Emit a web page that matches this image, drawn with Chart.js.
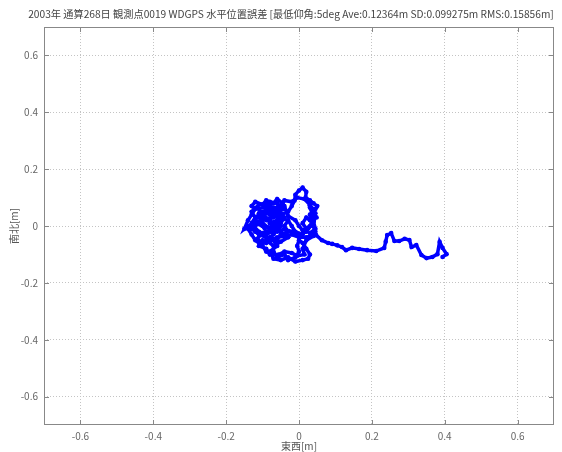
<!DOCTYPE html>
<html>
<head>
<meta charset="utf-8">
<script src="https://cdn.jsdelivr.net/npm/chart.js@4.4.1/dist/chart.umd.min.js"></script>
<style>
  html, body { margin: 0; padding: 0; background: #fff; }
  #wrap { width: 562px; height: 452px; }
</style>
</head>
<body>
<div id="wrap"><canvas id="errChart" width="562" height="452"></canvas></div>
<script>
// horizontal position error track (east-west / north-south, metres)
const ewTrack = [
  -0.05, -0.06, -0.08, -0.07, -0.09, -0.10, -0.12, -0.14, -0.15, -0.14,
  -0.13, -0.12, -0.13, -0.12, -0.10, -0.09, -0.07, -0.06, -0.045, -0.04,
  -0.06, -0.08, -0.10, -0.11, -0.09, -0.07, -0.05, -0.03, -0.02, -0.012,
  -0.01, 0.00, 0.01, 0.02, 0.018, 0.03, 0.04, 0.05, 0.04, 0.048,
  0.03, 0.02, 0.01, 0.02, 0.01, -0.01, -0.02, -0.03, -0.04, -0.03,
  -0.05, -0.06, -0.08, -0.09, -0.10, -0.11, -0.09, -0.08, -0.07, -0.06,
  -0.04, -0.03, -0.01, 0.00, -0.005, 0.00, 0.01, 0.02, 0.03, 0.025,
  0.01, -0.01, -0.03, -0.05, -0.07, -0.08, -0.06, -0.07, -0.09, -0.11,
  -0.12, -0.13, -0.11, -0.10, -0.08, -0.07, -0.09, -0.11, -0.10, -0.08,
  -0.06, -0.05, -0.03, -0.05, -0.07, -0.09, -0.07, -0.05, -0.04, -0.06,
  -0.04, -0.03, -0.01, 0.00, 0.01, 0.03, 0.04, 0.045, 0.03, 0.04,
  0.02, 0.01, 0.015, -0.005, -0.02, -0.04, -0.055, -0.07, -0.09, -0.10,
  -0.12, -0.13, -0.14, -0.13, -0.12, -0.13, -0.11, -0.08, -0.06, -0.05,
  -0.07, -0.09, -0.11, -0.12, -0.10, -0.085, -0.06, -0.04, -0.02, 0.00,
  0.02, 0.035, 0.03, 0.045, 0.03, 0.04, 0.035, 0.045, 0.04,
  0.02, 0.00, -0.02, -0.035, -0.06, -0.08, -0.10, -0.115, -0.10, -0.08,
  -0.065, -0.05, -0.065, -0.085, -0.105, -0.125, -0.11, -0.09, -0.075, -0.06,
  -0.04, -0.06, -0.08, -0.095, -0.075, -0.055, -0.04, -0.02, -0.005, 0.015,
  0.03, 0.045, 0.04, 0.045,
  0.047, 0.063, 0.08, 0.091, 0.105, 0.118, 0.129, 0.146, 0.165, 0.187,
  0.212, 0.234, 0.238, 0.242, 0.253, 0.262, 0.275, 0.29, 0.303, 0.309,
  0.322, 0.336, 0.35, 0.366, 0.38, 0.386, 0.394, 0.405, 0.394
];
const nsTrack = [
  0.00, 0.02, 0.01, -0.01, -0.02, 0.00, 0.01, 0.00, -0.01, 0.02,
  0.04, 0.06, 0.07, 0.085, 0.075, 0.09, 0.08, 0.095, 0.08, 0.06,
  0.05, 0.04, 0.05, 0.03, 0.02, 0.03, 0.04, 0.05, 0.07, 0.09,
  0.11, 0.125, 0.135, 0.12, 0.10, 0.09, 0.08, 0.07, 0.05, 0.03,
  0.02, 0.03, 0.01, -0.01, -0.03, -0.02, 0.00, 0.02, 0.00, -0.02,
  -0.03, -0.05, -0.04, -0.06, -0.05, -0.07, -0.08, -0.10, -0.09, -0.11,
  -0.10, -0.12, -0.11, -0.09, -0.07, -0.05, -0.06, -0.08, -0.10, -0.115,
  -0.12, -0.125, -0.11, -0.12, -0.115, -0.09, -0.07, -0.05, -0.04, -0.03,
  -0.02, -0.01, 0.01, 0.03, 0.06, 0.065, 0.07, 0.06, 0.04, 0.02,
  0.00, -0.02, -0.04, -0.055, -0.07, -0.05, -0.03, 0.01, 0.03, 0.065,
  0.07, 0.035, 0.02, 0.00, -0.015, 0.00, 0.015, -0.01, -0.025, -0.035,
  -0.05, -0.08, -0.10, -0.105, -0.095, -0.09, -0.10, -0.10, -0.09, -0.07,
  -0.05, -0.03, -0.01, 0.01, 0.03, 0.05, 0.075, 0.085, 0.08, 0.06,
  0.045, 0.055, 0.045, 0.02, 0.01, -0.005, -0.02, -0.01, -0.02, -0.03,
  -0.02, 0.005, 0.04, 0.06, 0.065, 0.03, 0.01, -0.02, -0.03,
  -0.04, -0.04, -0.03, -0.035, -0.04, -0.055, -0.06, -0.045, -0.025, -0.015,
  0.00, 0.02, 0.035, 0.025, 0.02, 0.00, -0.02, -0.03, -0.02, 0.01,
  0.025, 0.045, 0.075, 0.065, 0.055, 0.07, 0.09, 0.085, 0.10, 0.095,
  0.075, 0.045, 0.00, -0.03,
  -0.032, -0.05, -0.06, -0.063, -0.068, -0.074, -0.085, -0.077, -0.081, -0.085,
  -0.088, -0.077, -0.055, -0.032, -0.025, -0.053, -0.053, -0.045, -0.049, -0.074,
  -0.067, -0.102, -0.113, -0.109, -0.099, -0.056, -0.077, -0.099, -0.109
];
const tickValues = [-0.6, -0.4, -0.2, 0, 0.2, 0.4, 0.6];
const axisMin = -0.7;
const axisMax = 0.7;

const titleText = '2003年 通算268日 観測点0019 WDGPS 水平位置誤差 [最低仰角:5deg Ave:0.12364m SD:0.099275m RMS:0.15856m]';
const xTitle = '東西[m]';
const yTitle = '南北[m]';

const fontFamily = '"Noto Sans CJK JP", "Liberation Sans", sans-serif';
const tickColor = '#666';

const points = ewTrack.map((x, i) => ({ x: x, y: nsTrack[i] }));

// title sits slightly right of the canvas centre, as in the original figure
const titlePlugin = {
  id: 'titlePlugin',
  afterDraw(chart) {
    const c = chart.ctx;
    c.save();
    c.font = '10.2px ' + fontFamily;
    c.fillStyle = '#444';
    c.textAlign = 'center';
    c.textBaseline = 'middle';
    c.fillText(titleText, 291, 14);
    c.restore();
  }
};

// MATLAB-like box with inward ticks on all four sides
const boxPlugin = {
  id: 'boxPlugin',
  afterDraw(chart) {
    const { ctx, chartArea: a, scales } = chart;
    ctx.save();
    ctx.strokeStyle = '#888';
    ctx.lineWidth = 1;
    ctx.strokeRect(a.left + 0.5, a.top + 0.5, a.right - a.left - 1, a.bottom - a.top - 1);
    ctx.beginPath();
    tickValues.forEach(v => {
      const px = Math.round(scales.x.getPixelForValue(v)) + 0.5;
      const py = Math.round(scales.y.getPixelForValue(v)) + 0.5;
      ctx.moveTo(px, a.bottom); ctx.lineTo(px, a.bottom - 5);
      ctx.moveTo(px, a.top); ctx.lineTo(px, a.top + 5);
      ctx.moveTo(a.left, py); ctx.lineTo(a.left + 5, py);
      ctx.moveTo(a.right, py); ctx.lineTo(a.right - 5, py);
    });
    ctx.stroke();
    ctx.restore();
  }
};

const gridOpts = {
  color: '#c4c4c4',
  lineWidth: 1,
  drawTicks: false,
  tickLength: 0
};
const borderOpts = { display: false, dash: [1, 2] };

const ctx = document.getElementById('errChart').getContext('2d');
const errChart = new Chart(ctx, {
  type: 'scatter',
  data: {
    datasets: [{
      label: 'track',
      data: points,
      showLine: true,
      borderColor: '#0000ff',
      borderWidth: 3.5,
      backgroundColor: '#0000ff',
      pointRadius: 2.3,
      pointBorderWidth: 0,
      tension: 0
    }]
  },
  options: {
    responsive: false,
    animation: false,
    layout: { padding: { left: 0, right: 8, top: 27, bottom: 0 } },
    plugins: {
      legend: { display: false },
      tooltip: { enabled: false },
      title: { display: false }
    },
    scales: {
      x: {
        type: 'linear',
        min: axisMin,
        max: axisMax,
        afterBuildTicks: s => { s.ticks = tickValues.map(v => ({ value: v })); },
        afterFit: s => { s.height = 27; },
        grid: gridOpts,
        border: borderOpts,
        ticks: {
          color: tickColor,
          padding: 5,
          font: { family: fontFamily, size: 10 },
          callback: v => String(Math.round(v * 10) / 10)
        },
        title: {
          display: true,
          text: xTitle,
          color: '#555',
          padding: { top: 0, bottom: 0 },
          font: { family: fontFamily, size: 10 }
        }
      },
      y: {
        type: 'linear',
        min: axisMin,
        max: axisMax,
        afterBuildTicks: s => { s.ticks = tickValues.map(v => ({ value: v })); },
        afterFit: s => { s.width = 44; },
        grid: gridOpts,
        border: borderOpts,
        ticks: {
          color: tickColor,
          padding: 6,
          font: { family: fontFamily, size: 10 },
          callback: v => String(Math.round(v * 10) / 10)
        },
        title: {
          display: true,
          text: yTitle,
          color: '#555',
          padding: { top: 8, bottom: 0 },
          font: { family: fontFamily, size: 10 }
        }
      }
    }
  },
  plugins: [boxPlugin, titlePlugin]
});
</script>
</body>
</html>
